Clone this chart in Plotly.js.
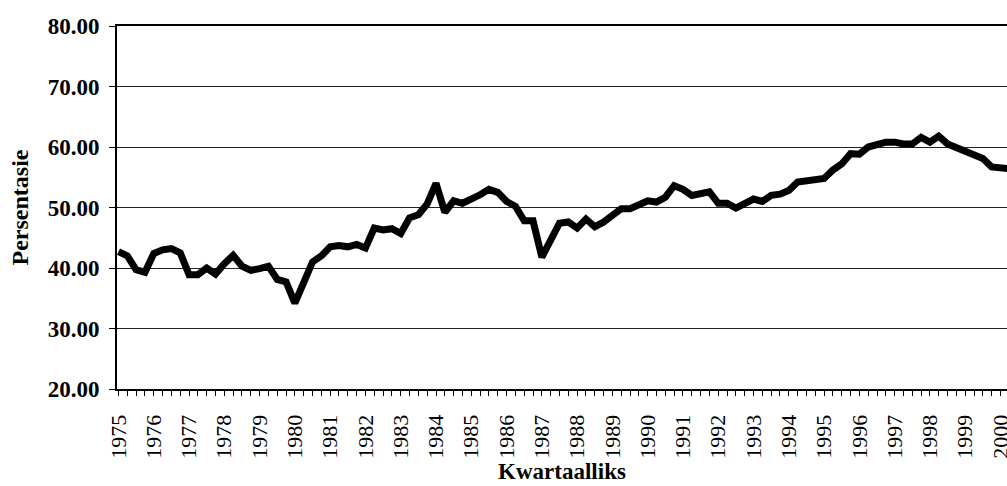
<!DOCTYPE html>
<html>
<head>
<meta charset="utf-8">
<script src="https://cdn.plot.ly/plotly-3.0.1.min.js"></script>
<style>html,body{margin:0;padding:0;background:#fff;}#chart{width:1007px;height:486px;}</style>
</head>
<body>
<div id="chart"></div>
<script>
// Quarterly percentages, starting 1975 Q1
const startYear = 1975;
const values = [
  42.7, 42.0, 39.7, 39.3,  // 1975
  42.4, 43.0, 43.2, 42.5,  // 1976
  38.9, 38.9, 40.0, 39.0,  // 1977
  40.7, 42.1, 40.3, 39.6,  // 1978
  39.9, 40.3, 38.1, 37.7,  // 1979
  34.2, 37.3, 41.0, 42.0,  // 1980
  43.5, 43.7, 43.5, 43.9,  // 1981
  43.3, 46.6, 46.3, 46.5,  // 1982
  45.7, 48.3, 48.8, 50.6,  // 1983
  54.0, 49.2, 51.1, 50.7,  // 1984
  51.3, 52.1, 53.0, 52.5,  // 1985
  51.0, 50.2, 47.8, 47.8,  // 1986
  41.8, 44.6, 47.4, 47.6,  // 1987
  46.6, 48.1, 46.8, 47.6,  // 1988
  48.8, 49.8, 49.8, 50.5,  // 1989
  51.1, 50.9, 51.7, 53.6,  // 1990
  53.0, 52.0, 52.4, 52.6,  // 1991
  50.7, 50.7, 49.9, 50.6,  // 1992
  51.4, 51.0, 52.0, 52.2,  // 1993
  52.8, 54.2, 54.4, 54.7,  // 1994
  54.8, 56.2, 57.2, 58.9,  // 1995
  58.8, 60.0, 60.4, 60.8,  // 1996
  60.8, 60.5, 60.5, 61.6,  // 1997
  60.8, 61.8, 60.5, 59.9,  // 1998
  59.2, 58.8, 58.1, 56.7,  // 1999
  56.5, 56.4               // 2000
];
const tickYears = ['1975','1976','1977','1978','1979','1980','1981','1982','1983','1984','1985','1986','1987',
  '1988','1989','1990','1991','1992','1993','1994','1995','1996','1997','1998','1999','2000'];
const yTicks = [20, 30, 40, 50, 60, 70, 80];

const xq = values.map((v, i) => startYear + i / 4);
const tickVals = tickYears.map(Number);

const serif = 'Liberation Serif, Times New Roman, serif';

const trace = {
  x: xq, y: values, type: 'scatter', mode: 'lines',
  line: {color: '#000', width: 7, shape: 'linear'},
  hoverinfo: 'skip'
};

const layout = {
  width: 1007, height: 486,
  margin: {l: 117, r: 0, t: 26, b: 97, pad: 0},
  paper_bgcolor: '#fff', plot_bgcolor: '#fff',
  showlegend: false,
  xaxis: {
    range: [1974.9575, 2000.185],
    tickvals: tickVals, ticktext: tickYears,
    tickangle: -90,
    ticklabeloverflow: 'allow',
    ticklabelstandoff: 10,
    ticks: 'outside', ticklen: 5, tickwidth: 1, tickcolor: '#000',
    minor: {ticks: 'outside', ticklen: 5, tickwidth: 1, tickcolor: '#000', dtick: 0.25, tick0: 1975, showgrid: false},
    showgrid: false, zeroline: false,
    showline: true, linecolor: '#000', linewidth: 2, mirror: true,
    tickfont: {family: serif, size: 22, color: '#000'},
    title: {text: '<b>Kwartaalliks</b>', font: {family: serif, size: 23, color: '#000'}, standoff: 5},
    automargin: false
  },
  yaxis: {
    range: [20, 80],
    tickvals: yTicks, tickformat: '.2f',
    ticks: 'outside', ticklen: 6, tickwidth: 1, tickcolor: '#000',
    showgrid: true, gridcolor: '#222', gridwidth: 1,
    zeroline: false,
    showline: true, linecolor: '#000', linewidth: 2,
    tickfont: {family: serif, size: 23, color: '#000', weight: 'bold'},
    ticklabelstandoff: 5,
    title: {text: '<b>Persentasie</b>', font: {family: serif, size: 24, color: '#000'}, standoff: 12},
    automargin: false
  }
};

Plotly.newPlot('chart', [trace], layout, {staticPlot: true, displayModeBar: false});
</script>
</body>
</html>
